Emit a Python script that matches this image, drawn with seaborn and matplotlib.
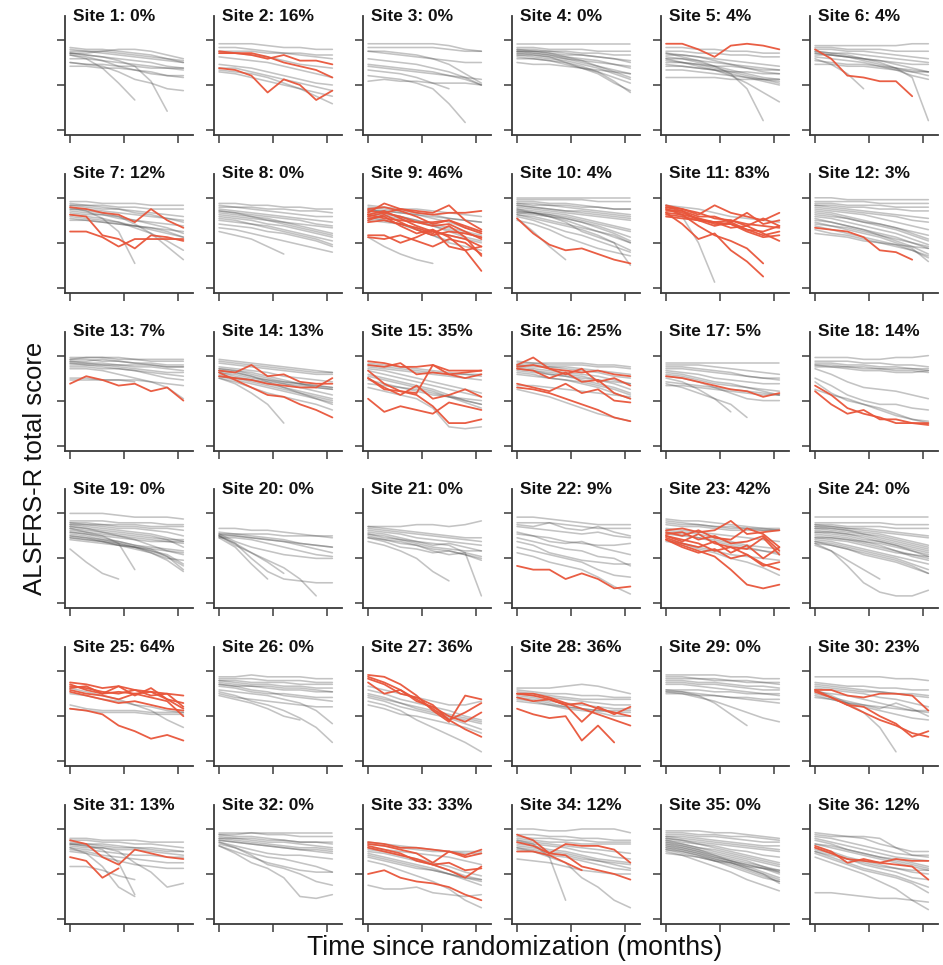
import pandas as pd
import matplotlib
matplotlib.use('Agg')
import matplotlib.pyplot as plt
import seaborn as sns

# visit times (months) shared by every patient trajectory
MONTHS = [0, 1.8, 3.6, 5.4, 7.2, 9.0, 10.8, 12.6]

SITE_PCT = [0, 16, 0, 0, 4, 4, 12, 0, 46, 4, 83, 3, 7, 13, 35, 25, 5, 14,
            0, 0, 0, 9, 42, 0, 64, 0, 36, 36, 0, 23, 13, 0, 33, 12, 0, 12]

# ALSFRS-R scores per patient, one string per patient; "r" marks a red (flagged) patient
site_01 = ["44 43 43 42 41 40 38 37", "43 42 42 41 40 39 38 36", "41 41 42 43 43 42 40 38",
           "41 40 39 38 37 36 34 33", "38 38 37 36 35 34 33 32", "36 35 35 34 34 33 33 33",
           "34 34 33 33 32 31 29 28", "40 38 33 25 16", "41 40 39 37 34 26 10",
           "36 35 34 31 27 25 22 21", "40 39 37 34 32 30 29 29", "42 42 41 40 39 38 37 36"]
site_02 = ["46 46 46 45 44 44 43 43", "42 42 42 41 41 41 40 40", "41 41 40 39 37 35 34 33",
           "39 38 37 36 34 32 30 28", "33 33 31 29 27 25 23 21", "32 31 30 28 25 22 18 14",
           "31 30 28 26 24 22 20 18", "35 34 33 31 29 27 25 24", "44 44 43 42 41 40 39 38",
           "r 41 41 40 38 40 37 37 35", "r 42 41 41 39 36 34 32 28", "r 33 32 29 20 27 24 16 21"]
site_03 = ["46 46 46 46 46 45 43 42", "44 44 44 44 44 43 42 42", "42 42 41 40 38 35 30 25",
           "42 41 40 39 38 37 36 36", "38 37 36 35 33 31 28 24", "35 34 33 32 31 29 27 24",
           "32 31 30 28 25 22", "29 28 27 25 22 14 4", "26 27 26 26 25 25 25 24",
           "34 33 32 31 30 29 28 27"]
site_04 = ["46 46 46 46 46 46 46 46", "44 44 43 43 43 42 42 42", "43 43 42 42 41 41 40 40",
           "42 42 41 40 40 39 38 37", "41 41 40 39 38 37 35 33", "42 41 40 38 36 34 32 30",
           "40 39 38 37 35 33 30 27", "43 42 41 39 37 34 31 28", "38 38 37 36 34 31 28 25",
           "41 40 39 36 33 30 25 21", "39 38 37 35 33 31 26 20", "36 35 35 34 33 32 31 30",
           "42 42 42 41 40 39 38 36", "40 40 39 38 37 36 35 34"]
site_05 = ["44 44 43 43 42 42 41 41", "42 42 41 41 40 40 39 39", "41 40 39 38 37 36 35 34",
           "40 40 39 37 35 33 31 30", "38 38 37 36 35 34 33 32", "39 38 36 34 32 30 28 27",
           "37 36 35 33 31 29 27 25", "36 36 35 34 34 33 32 32", "35 34 33 32 30 28 26 24",
           "34 34 33 32 31 31 30 30", "32 32 31 30 29 28 27 26", "28 28 28 28 27 27 27 27",
           "41 39 37 34 30 22 5", "38 36 34 32 29 25 20 15", "r 46 46 43 39 45 46 45 43"]
site_06 = ["45 45 45 45 45 45 46 46", "44 44 43 43 43 42 42 42", "43 43 42 42 41 40 39 38",
           "42 41 41 40 39 38 37 36", "41 40 39 38 37 36 35 35", "40 40 39 38 37 35 33 31",
           "39 38 37 36 34 32 29 27", "37 36 35 35 34 33 32 31", "38 35 30 22",
           "42 41 40 38 36 33 28 5", "35 35 34 34 33 32 31 31", "41 40 39 37 35 33 31 29",
           "r 43 38 29 28 26 26 18"]
site_07 = ["46 46 45 45 45 44 44 44", "45 44 44 43 43 42 42 42", "44 43 42 42 41 40 39 38",
           "42 42 41 40 39 38 37 36", "41 40 39 38 36 34 32 29", "43 41 37 30 13",
           "38 37 36 35 33 31 29 27", "37 36 35 34 33 32 30 27", "36 36 35 34 33 32 31 30",
           "42 41 40 38 34 29 22 15", "39 38 37 35 32 29 25 20", "44 44 43 42 40 39 37 35",
           "40 39 39 37 36 35 34 33",
           "r 43 42 40 39 35 42 36 32", "r 39 38 28 26 21 28 27 25", "r 30 30 27 22 26 26 26 26"]
site_08 = ["45 45 44 44 43 43 42 42", "44 43 43 42 42 41 41 40", "43 43 42 41 40 39 38 38",
           "42 41 40 39 38 37 36 35", "41 40 39 38 37 36 34 33", "40 39 38 37 35 33 31 29",
           "39 38 37 36 35 34 33 32", "38 37 36 34 33 31 29 27", "37 36 34 33 31 29 27 25",
           "36 35 34 32 30 28 26 23", "34 33 32 30 29 27 25 22", "32 31 29 27 25 23 21 19",
           "30 28 26 22 18", "41 40 38 36 34 32 30 28"]
site_09 = ["44 43 42 42 41 40 39 38", "43 42 41 40 39 37 36 35", "42 41 40 39 38 37 36 35",
           "41 41 40 39 37 35 32 30", "40 39 38 36 34 32 30 28", "38 36 34 31 28 25",
           "27 22 18 15 13", "37 36 34 31 28 24 22 20", "42 40 38 36 33 30 27 25",
           "39 38 37 35 33 31 29 27", "36 35 34 32 30 28 26 24",
           "r 40 45 42 41 40 44 36 31", "r 41 40 42 40 39 40 40 41", "r 42 43 41 38 34 36 32 29",
           "r 39 41 37 33 30 28 26 22", "r 38 40 38 35 33 34 30 26", "r 37 38 33 29 31 27 20 9",
           "r 35 36 34 32 29 33 27 17", "r 28 28 24 27 31 22 20 22", "r 27 26 28 25 22 26 24 18",
           "r 39 37 36 35 35 36 33 30", "r 36 39 35 31 28 30 29 27"]
site_10 = ["48 48 48 48 48 48 48 48", "47 47 47 47 47 46 46 46", "46 46 45 45 44 43 42 42",
           "45 44 44 43 42 41 40 39", "44 43 42 41 40 39 38 37", "43 42 41 40 39 38 37 36",
           "42 41 40 39 37 35 33 31", "41 40 38 37 35 33 30 27", "40 39 38 36 33 30 27 24",
           "39 37 35 33 31 28 24 20", "38 36 33 30 28 25 22 19", "36 34 31 27 24 21 19 17",
           "42 40 38 35 30 27 24 12", "37 30 22 15", "44 43 42 41 41 40 39 38",
           "45 45 44 44 43 43 42 42", "40 40 39 38 36 34 32 30", "41 40 39 37 35 32 29 25",
           "39 38 36 34 32 30 28 24", "r 37 29 23 20 21 18 15 13"]
site_11 = ["44 38 24 3", "44 43 42 40 38 37 36 35",
           "r 44 42 39 44 40 38 36 40", "r 43 41 38 38 35 40 34 36", "r 42 40 37 35 36 33 37 33",
           "r 41 41 36 33 35 31 28 30", "r 40 39 37 34 34 30 27 28", "r 39 38 36 35 32 33 29 25",
           "r 40 34 26 29 20 14 6", "r 42 39 33 28 25 21 13", "r 38 37 36 35 34 31 30 33",
           "r 43 42 40 37 36 34 33 32"]
site_12 = ["48 48 47 47 47 47 47 47", "46 46 46 46 45 45 45 45", "45 45 44 44 44 43 43 43",
           "44 44 43 43 42 42 41 41", "44 43 42 41 40 39 38 37", "43 42 41 40 39 38 36 35",
           "42 41 40 39 37 35 33 31", "41 40 38 36 34 32 29 26", "40 39 37 35 33 31 28 25",
           "39 38 37 35 34 32 30 28", "38 37 35 33 31 29 26 23", "37 35 33 31 29 27 24 21",
           "36 35 33 31 28 25 22 18", "35 33 31 29 27 24 21 14", "34 33 32 30 28 26 24 22",
           "33 31 29 27 25 23 20 17", "31 29 28 26 24 22 20 16", "29 28 27 25 24 23 22 21",
           "r 32 31 30 27 20 19 15"]
site_13 = ["47 47 47 47 46 46 46 46", "46 47 47 46 46 45 45 45", "46 46 45 45 44 44 43 43",
           "45 45 46 45 44 43 42 42", "45 44 44 43 42 42 41 40", "44 44 43 43 43 43 42 42",
           "44 43 42 41 40 38 36 35", "43 43 43 42 41 40 39 39", "42 42 41 41 40 39 38 37",
           "41 41 40 38 36 34 31 25", "36 36 35 35 35 34 33 32", "35 35 35 35 34",
           "r 33 37 35 32 33 29 31 24"]
site_14 = ["46 45 44 43 42 41 40 39", "45 44 43 42 41 40 39 39", "44 43 42 41 40 39 38 38",
           "42 41 40 39 37 36 35 34", "41 40 38 36 34 33 31 30", "40 39 37 35 33 31 29 27",
           "39 37 35 33 31 29 27 25", "38 36 34 32 30 28 26 24", "37 35 33 31 29 27 25 22",
           "36 34 31 28 26 24 22 19", "36 33 28 22 12", "41 40 39 37 35 33 32 31",
           "39 38 36 35 34 33 32 31", "37 36 35 34 33 32 31 30", "40 39 37 34 31 28 25 23",
           "r 40 39 43 37 38 34 33 33", "r 39 35 31 27 26 22 19 15", "r 37 36 35 33 32 31 31 36"]
site_15 = ["44 43 42 41 40 39 38 37", "43 42 41 40 39 38 38 38", "42 41 40 39 38 37 36 35",
           "41 40 38 36 34 32 30 28", "40 38 36 34 32 30 28 26", "38 36 34 32 30 27 24 22",
           "37 35 33 31 29 26 23 20", "35 33 31 29 27 26 25 24", "33 32 31 30 28 26 24 22",
           "31 29 27 25 20 10 9 10",
           "r 45 44 42 42 43 40 40 40", "r 43 42 44 38 39 38 39 40", "r 40 33 29 28 43 38 36 38",
           "r 36 31 27 32 25 27 30 26", "r 25 18 21 19 17 23 21 19", "r 36 30 29 27 21 12 12 14"]
site_16 = ["45 44 44 44 44 43 43 42", "44 44 43 43 43 42 42 41", "43 43 42 42 41 40 39 38",
           "43 42 42 41 40 39 37 36", "42 41 40 39 38 37 35 33", "41 40 39 38 37 35 33 30",
           "41 40 38 37 35 33 31 28", "40 39 38 37 36 35 34 33", "39 38 36 35 34 32 30 27",
           "38 37 36 35 33 31 28 25", "32 32 31 30 29 28 27 26", "30 28 26 23 20 17 15 13",
           "r 43 47 41 40 39 40 38 37", "r 42 43 41 38 41 34 36 32", "r 41 40 36 39 34 35 28 25",
           "r 33 31 29 33 28 30 24 23", "r 31 30 28 25 22 19 15 13"]
site_17 = ["44 44 44 44 44 44 44 44", "43 43 43 42 41 40 39 38", "42 42 41 40 39 37 36 35",
           "41 41 40 39 38 37 36 36", "40 39 38 36 35 34 33 33", "39 38 36 34 33 31 29 27",
           "38 37 35 33 32 31 30 29", "37 36 34 31 28 25 24 24", "36 34 30 25 18",
           "33 31 28 25 22 15", "34 33 32 31 30 29 28 27", "32 32 31 30 29 28 27 27",
           "r 37 36 34 32 30 29 26 28"]
site_18 = ["47 47 47 46 46 47 47 48", "45 45 45 44 44 43 43 42", "44 44 43 43 42 42 41 41",
           "43 43 42 42 41 41 41 40", "43 42 42 41 41 40 40 39", "42 42 41 40 40 39 39 40",
           "41 38 34 31 30 29 27 25", "36 32 27 24 22 22 20 19", "34 28 24 22 19 16 14 13",
           "30 27 25 22 20 17 14 12",
           "r 32 27 20 17 15 12 12 11", "r 29 22 17 19 14 14 12 12"]
site_19 = ["48 48 48 47 46 46 46 45", "44 44 44 43 43 43 42 42", "43 43 42 42 42 41 41 41",
           "43 42 42 41 41 40 40 39", "42 42 41 40 40 39 38 36", "42 41 40 39 38 37 35 33",
           "41 40 39 38 37 36 34 30", "40 39 38 37 36 35 34 34", "39 38 37 36 35 34 33 32",
           "38 37 36 35 34 33 33 33", "38 37 35 33 31 29 25 20", "37 36 34 32 30 28 25 18",
           "36 35 33 31 30 28 26 21", "36 35 34 33 31 30 29 28", "35 34 33 31 29 27 23 17",
           "34 33 32 31 30 29 28 27", "40 38 36 32 18", "29 22 16 13",
           "41 40 38 36 34 31 28 26", "35 34 33 32 30 27 24 23"]
site_20 = ["40 40 39 39 38 37 36 36", "37 37 37 37 36 36 36 35", "38 37 36 35 34 32 31 30",
           "37 36 35 34 33 32 31 30", "36 36 35 34 33 31 29 27", "35 35 34 32 30 28 26 25",
           "37 33 30 28 26 25 24 24", "36 32 27 22 16", "36 31 27 23 19 13 4",
           "36 32 24 17 13 12 11 11", "35 30 21 13"]
site_21 = ["41 41 41 42 42 41 42 44", "41 40 39 38 37 36 35 35", "40 39 38 37 36 35 34 33",
           "39 38 37 35 34 33 32 31", "38 37 35 33 31 32 30 28", "37 36 34 32 30 29 28 28",
           "36 34 32 31 28 26 27 25", "35 33 30 29 27 28 26 23", "37 35 34 33 32 31 27 4",
           "33 31 28 24 17 12", "35 34 33 31 29 28 26 24"]
site_22 = ["46 46 45 44 43 42 42 42", "43 43 43 42 41 40 40 40", "42 41 43 40 39 41 38 36",
           "41 40 39 38 37 38 36 35", "37 36 35 33 32 31 31 32", "38 36 33 32 33 30 28 26",
           "35 33 31 29 28 25 24 20", "33 31 27 25 23 22 21 21", "30 28 26 24 22 18 15 14",
           "27 25 22 20 18 14 9 5", "r 20 18 18 13 16 13 8 9"]
site_23 = ["45 44 44 43 42 41 40 39", "44 43 42 41 40 40 39 39", "43 42 42 41 41 40 40 40",
           "42 41 41 40 39 39 39 39", "40 39 38 37 36 35 34 33", "39 38 37 35 33 31 30 29",
           "37 36 35 33 31 29 28 27", "34 32 29 27 24 22 19 15", "33 32 30 28 26 25 24 23",
           "38 37 35 34 32 30 28 26",
           "r 39 40 38 39 44 37 38 39", "r 38 36 39 35 34 40 37 30", "r 37 38 34 36 32 33 36 28",
           "r 36 33 37 32 30 29 35 26", "r 35 32 30 33 27 31 24 30", "r 34 30 27 29 24 26 20 22",
           "r 34 31 28 25 18 10 8 10", "r 36 34 32 28 30 26 21 18"]
site_24 = ["46 46 46 46 46 46 46 46", "43 43 43 43 43 42 42 42", "42 42 41 41 41 40 40 40",
           "42 41 40 40 39 38 37 36", "41 41 40 39 38 37 36 35", "41 40 39 38 37 35 33 31",
           "40 40 39 37 36 34 32 30", "40 39 38 37 35 33 31 29", "39 38 37 36 34 32 30 28",
           "38 38 37 35 33 31 29 27", "38 37 36 34 33 31 28 25", "37 36 35 33 31 28 25 23",
           "36 35 34 33 32 30 28 26", "35 35 34 32 30 28 26 24", "35 34 33 31 29 27 26 25",
           "34 33 31 29 27 25 23 21", "33 32 30 28 26 24 21 18", "32 31 29 26 24 22 19 16",
           "32 28 23 18 13", "31 28 20 11 6 4 4 7", "33 31 29 27 25 23 20 16"]
site_25 = ["30 28 27 27 27 26 26 26", "28 27 26 26 26 25 25 25", "39 37 35 33 30 27 22 18",
           "36 35 33 32 30 29 27 26",
           "r 42 41 39 40 38 37 36 35", "r 41 38 36 40 35 39 33 28", "r 40 39 37 36 38 35 36 29",
           "r 39 40 36 37 36 37 33 31", "r 38 36 35 33 36 34 32 24", "r 37 35 33 31 32 30 28 27",
           "r 28 27 25 19 16 12 14 11"]
site_26 = ["45 45 46 45 45 45 44 44", "44 44 44 43 43 43 42 42", "43 43 42 42 42 41 41 41",
           "43 42 41 41 40 40 39 39", "42 41 40 40 39 39 38 37", "41 40 40 39 38 38 37 37",
           "41 40 38 37 35 34 33 32", "40 39 37 36 36 35 34 34", "38 37 36 35 33 31 27 20",
           "37 35 32 30 27 23 18 10", "36 34 33 32 31 30 29 29", "35 33 31 28 24 22"]
site_27 = ["40 38 36 34 32 30 30 32", "38 36 33 31 29 27 24 22", "36 34 31 28 26 24 22 20",
           "34 32 29 27 25 23 20 17", "32 30 27 22 18 14 10 5", "35 33 31 29 27 25 23 21",
           "30 28 25 24 22 20 18 15",
           "r 46 45 41 35 27 21 35 33", "r 45 42 38 33 28 22 17 13", "r 44 41 36 34 30 22 26 31",
           "r 42 36 38 32 29 24 21 26"]
site_28 = ["39 39 39 40 41 40 38 36", "38 37 36 36 35 35 34 34", "37 36 35 34 33 33 33 33",
           "36 35 34 33 32 31 30 30", "35 34 32 31 30 29 28 28", "34 33 31 29 28 27 26 26",
           "33 32 30 28 27 26 24 24", "32 31 30 29 28 27 27 27",
           "r 36 36 34 31 28 25 22 19", "r 36 35 33 30 21 29 25 29", "r 28 25 23 24 11 19 10",
           "r 34 32 33 30 31 28 26 24"]
site_29 = ["46 46 46 46 45 45 44 44", "45 45 44 44 43 43 42 42", "44 44 44 43 43 42 42 41",
           "43 43 42 42 41 40 40 39", "42 42 41 41 40 39 38 38", "41 41 40 39 38 37 36 36",
           "38 38 38 37 37 36 36 35", "37 37 36 35 34 33 32 31", "38 37 35 31 25 19",
           "37 36 34 32 29 26 23 21", "36 36 35 35 34 34 33 33"]
site_30 = ["45 45 45 45 45 44 44 43", "42 41 40 40 39 39 38 38", "41 40 39 38 37 36 35 34",
           "40 39 38 37 37 36 36 35", "39 38 37 36 34 33 31 29", "37 36 35 33 31 29 27 26",
           "36 34 32 30 28 31 28 24", "35 33 31 29 27 25 23 22", "34 33 31 30 29 28 27 27",
           "38 35 31 26 18 5",
           "r 38 38 35 34 36 36 35 27", "r 38 34 30 26 22 19 15 13", "r 37 34 30 29 24 20 13 16"]
site_31 = ["43 43 42 42 42 41 41 41", "42 42 41 41 40 40 39 38", "41 40 40 39 38 38 37 36",
           "40 40 39 38 38 37 36 36", "39 38 38 37 37 36 35 34", "38 37 36 35 34 34 33 33",
           "37 36 34 33 32 31 30 30", "36 35 33 31 29 28 27 27", "28 28 26 23 21",
           "38 35 28 17 12", "40 39 37 30 13", "40 39 38 36 30 25 17 19",
           "r 42 40 33 29 37 35 33 32", "r 33 31 22 27"]
site_32 = ["46 46 46 46 46 46 46 46", "45 45 46 45 45 44 44 44", "45 44 44 43 42 41 41 40",
           "44 43 43 42 42 41 41 41", "43 43 42 41 41 40 39 38", "43 42 41 40 39 38 38 37",
           "42 41 40 39 38 37 37 36", "41 39 37 35 34 34 33 32", "40 38 35 33 32 30 28 25",
           "39 36 33 30 28 26 25 25", "41 38 34 29 27 24 20 18", "39 35 30 27 22 12 11 13",
           "42 41 40 39 38 37 36 35"]
site_33 = ["41 40 39 38 37 36 36 36", "40 39 38 37 36 36 35 35", "38 37 36 35 34 33 31 29",
           "37 36 34 32 30 28 25 23", "36 35 33 31 29 26 23 21", "35 33 31 29 27 24 22 20",
           "34 32 30 28 26 24 21 18", "33 31 29 27 26 24 22 21", "18 16 16 17 14 13 12 13",
           "31 29 26 23 20 16 10 6",
           "r 41 40 38 38 37 36 33 35", "r 40 39 37 35 30 36 34 37", "r 39 37 35 31 29 30 26 27",
           "r 38 36 34 32 29 26 22 28", "r 24 26 22 20 19 17 13 10"]
site_34 = ["48 48 47 47 48 48 48 46", "45 45 44 44 43 43 42 42", "44 43 43 42 42 41 41 41",
           "43 42 41 41 40 40 40 40", "42 41 40 39 38 37 36 35", "41 40 39 38 36 35 33 32",
           "40 39 37 36 34 32 31 30", "39 38 36 35 33 31 30 29", "38 37 35 34 32 31 29 27",
           "37 36 34 33 31 29 27 26", "32 31 30 28 26 25 24 24", "42 40 33 10",
           "38 36 33 30 22 17 10 6",
           "r 45 42 35 40 39 39 37 30", "r 41 39 35 34 28 26 24 21", "r 36 36 34 30 26"]
site_35 = ["47 47 47 46 46 45 44 43", "46 46 45 45 44 44 43 42", "45 45 44 44 43 42 41 41",
           "44 44 43 42 41 40 39 39", "44 43 42 41 40 39 38 37", "43 42 41 40 39 38 37 36",
           "43 42 40 39 37 36 34 33", "42 41 40 38 36 34 32 30", "42 40 38 37 35 33 31 29",
           "41 40 38 36 34 32 30 28", "41 39 37 35 33 31 28 26", "40 39 37 34 32 30 28 25",
           "40 38 36 34 31 29 27 24", "39 38 36 33 31 28 25 22", "39 37 35 32 30 27 24 21",
           "38 37 35 33 31 29 27 25", "38 36 34 31 29 26 23 20", "37 36 34 32 30 27 24 19",
           "37 35 33 31 28 25 22 20", "36 34 31 28 25 21 18 15", "35 34 33 31 30 28 27 26"]
site_36 = ["46 45 44 43 40 38 36 36", "45 44 44 44 43 38 34 33", "44 43 41 39 37 35 34 34",
           "43 41 39 37 35 33 32 31", "42 40 37 35 33 31 29 27", "40 38 36 34 32 30 28 26",
           "38 36 33 31 29 27 25 24", "37 35 32 29 27 25 22 21", "36 33 30 27 25 23 20 17",
           "35 32 29 26 24 22 19 14", "33 30 27 24 20 16 10 5", "14 14 13 12 11 11 10 9",
           "40 39 37 35 33 32 30 28", "36 34 32 30 28 27 26 26",
           "r 39 36 30 32 30 32 31 31", "r 38 35 32 31 30 29 28 21"]

SITES = [site_01, site_02, site_03, site_04, site_05, site_06, site_07, site_08, site_09,
         site_10, site_11, site_12, site_13, site_14, site_15, site_16, site_17, site_18,
         site_19, site_20, site_21, site_22, site_23, site_24, site_25, site_26, site_27,
         site_28, site_29, site_30, site_31, site_32, site_33, site_34, site_35, site_36]

GRAY = '#4a4a4a'
RED = '#e8553a'
AXIS = '#3a3a3a'


def site_frame(lines):
    """Long-form table of one site's trajectories"""
    rows = []
    for pid, s in enumerate(lines):
        red = s.startswith('r')
        vals = [float(v) for v in s.lstrip('r ').split()]
        for m, v in zip(MONTHS, vals):
            rows.append({'pid': pid, 'month': m, 'score': v, 'red': red})
    return pd.DataFrame(rows)


def main():
    sns.set_style('white')
    plt.rcParams['font.family'] = ['Liberation Sans', 'DejaVu Sans']

    W, H = 943, 965
    fig = plt.figure(figsize=(W / 100, H / 100), dpi=100)

    for i, lines in enumerate(SITES):
        r, c = divmod(i, 6)
        left = (65 + 149 * c) / W
        bottom = 1 - (135 + 157.8 * r) / H
        ax = fig.add_axes([left, bottom, 128 / W, 119 / H])
        df = site_frame(lines)

        gray = df[~df['red']]
        red = df[df['red']]
        sns.lineplot(data=gray, x='month', y='score', units='pid', estimator=None,
                     color=GRAY, alpha=0.33, lw=1.15, ax=ax, legend=False)
        if len(red):
            sns.lineplot(data=red, x='month', y='score', units='pid', estimator=None,
                         color=RED, alpha=0.95, lw=1.3, ax=ax, legend=False)

        ax.set_xlim(-0.56, 13.67)
        ax.set_ylim(-2.67, 60.8)
        ax.set_xticks([0, 6, 12])
        ax.set_yticks([0, 24, 48])
        ax.set_xticklabels([])
        ax.set_yticklabels([])
        ax.set_xlabel('')
        ax.set_ylabel('')
        ax.tick_params(direction='out', length=6, width=1.1, color=AXIS,
                       bottom=True, left=True)
        for side in ['top', 'right']:
            ax.spines[side].set_visible(False)
        for side in ['left', 'bottom']:
            ax.spines[side].set_color(AXIS)
            ax.spines[side].set_linewidth(1.3)
        ax.patch.set_alpha(0)

        ax.text(0.06, 1.0, f'Site {i + 1}: {SITE_PCT[i]}%', transform=ax.transAxes,
                fontsize=12.5, fontweight='bold', ha='left', va='center', color='#111111')

    fig.text(0.037, 1 - 468 / H, 'ALSFRS-R total score', rotation=90,
             fontsize=18.5, ha='center', va='center', color='#111111')
    fig.text(515 / W, 1 - 948 / H, 'Time since randomization (months)',
             fontsize=19.2, ha='center', va='center', color='#111111')

    fig.savefig('out.png', dpi=100)
    plt.close(fig)


if __name__ == '__main__':
    main()
